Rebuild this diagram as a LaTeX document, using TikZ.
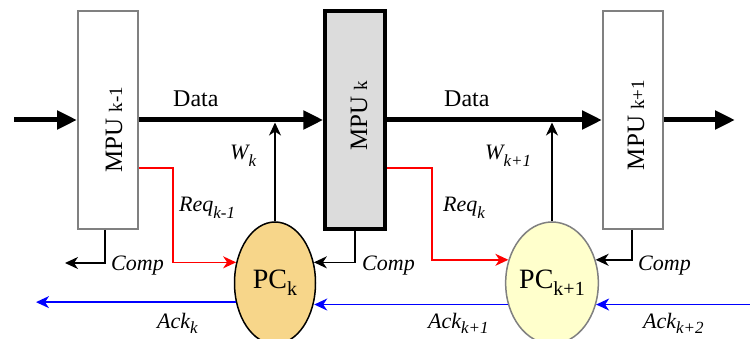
\documentclass[tikz,border=0pt]{standalone}
\usepackage{fontspec}
\setmainfont{Liberation Serif}
\usetikzlibrary{arrows.meta,shapes.geometric}
\definecolor{pcA}{HTML}{F7D68A}
\definecolor{pcB}{HTML}{FFFFCC}
\definecolor{mpuF}{HTML}{DCDCDC}
\definecolor{ackC}{HTML}{0000FF}
\definecolor{reqC}{HTML}{FF0000}
\newcommand{\sbs}[3][-7pt]{\raisebox{#1}{\fontsize{#2}{#2}\selectfont #3}}
\newcommand{\msub}[1]{{\fontsize{19}{19}\selectfont #1}}
\begin{document}
\begin{tikzpicture}[x=1pt,y=-1pt,
  lbl/.style={font=\fontsize{22}{26}\selectfont\itshape, inner sep=0pt, anchor=base west},
  datalbl/.style={font=\fontsize{24}{26}\selectfont, inner sep=0pt, anchor=base west},
  mpubox/.style={draw=gray, line width=2pt, fill=white, minimum width=60pt, minimum height=218pt, inner sep=0pt},
  mpumain/.style={mpubox, draw=black, line width=3.5pt, fill=mpuF},
  mputxt/.style={rotate=90, font=\fontsize{25}{28}\selectfont, inner sep=0pt},
  pc/.style={ellipse, draw, line width=1.5pt, minimum width=81pt, minimum height=122pt, inner sep=0pt, font=\fontsize{28}{30}\selectfont},
  dataarr/.style={line width=5pt, -{Triangle[length=20pt,width=18pt]}},
  thinarr/.style={line width=1.5pt, -{Stealth[length=13pt,width=12pt,inset=4pt]}},
  reqarr/.style={thinarr, draw=reqC},
  ackarr/.style={thinarr, draw=ackC},
]
\useasboundingbox (0,0) rectangle (750,339);
\clip (0,0) rectangle (750,339);

% MPU boxes
\node[mpubox]  (mpu1) at (108,120) {};
\node[mpumain] (mpu2) at (355,120) {};
\node[mpubox]  (mpu3) at (633,120) {};
\node[mputxt] (t1) at (114,130) {MPU \msub{k-1}};
\node[mputxt] (t2) at (359,116) {MPU \msub{k}};
\node[mputxt] (t3) at (636,125) {MPU \msub{k+1}};

% PCs
\node[pc, fill=pcA] (pc1) at (275,283) {PC\sbs{20}{k}};
\node[pc, fill=pcB, draw=gray] (pc2) at (552,283) {PC\sbs{20}{k+1}};

% free ends
\coordinate (in) at (14,120);
\coordinate (out) at (735,120);
\coordinate (compL) at (65,263);
\coordinate (ackL) at (36,302);
\coordinate (ackR) at (752,302);
\coordinate (r1) at (173,168);
\coordinate (r2) at (432,168);

% data path
\draw[dataarr] (in) -- (mpu1.west);
\draw[dataarr] (mpu1.east) -- (mpu2.west);
\draw[dataarr] (mpu2.east) -- (mpu3.west);
\draw[dataarr] (mpu3.east) -- (out);
\node[datalbl] (d1) at (173,107) {Data};
\node[datalbl] (d2) at (444,107) {Data};

% W arrows
\draw[thinarr, shorten >=2.5pt] (pc1.north) -- (pc1.north |- mpu1.east);
\draw[thinarr, shorten >=2.5pt] (pc2.north) -- (pc2.north |- mpu2.east);
\node[lbl] (w1) at (230,160) {W\sbs{17}{k}};
\node[lbl] (w2) at (485,160) {W\sbs{17}{k+1}};

% Req
\draw[reqarr] (mpu1.east |- r1) -- (r1) |- (pc1.152);
\draw[reqarr] (mpu2.east |- r2) -- (r2) |- (pc2.152);
\node[lbl] (q1) at (179,212) {Req\sbs{17}{k-1}};
\node[lbl] (q2) at (443,212) {Req\sbs{17}{k}};

% Comp
\draw[thinarr] ([xshift=-3pt]mpu1.south) |- (compL);
\draw[thinarr] (mpu2.south) |- (pc1.28);
\draw[thinarr] ([xshift=-1pt]mpu3.south) |- (pc2.28);
\node[lbl] (c1) at (111,271) {Comp};
\node[lbl] (c2) at (362,271) {Comp};
\node[lbl] (c3) at (638,271) {Comp};

% Ack
\draw[ackarr] (pc1.206) -- (pc1.206 -| ackL);
\draw[ackarr] (pc2.206) -- (pc2.206 -| pc1.-26);
\draw[ackarr] (pc2.-26 -| ackR) -- (pc2.-26);
\node[lbl] (a1) at (157,328) {Ack\sbs[-5pt]{17}{k}};
\node[lbl] (a2) at (428,328) {Ack\sbs[-5pt]{17}{k+1}};
\node[lbl] (a3) at (643,328) {Ack\sbs[-5pt]{17}{k+2}};
\end{tikzpicture}
\end{document}
